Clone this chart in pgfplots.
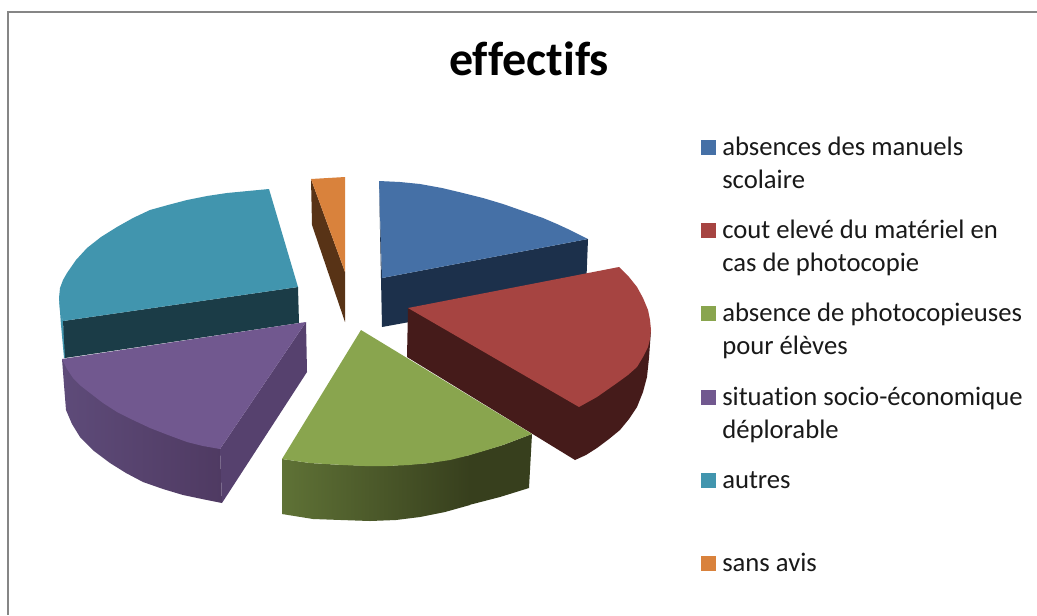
\documentclass[border=0pt]{standalone}
\usepackage{fontspec}
\setmainfont[Ligatures={NoCommon}]{Carlito}
\usepackage{pgfplots}
\pgfplotsset{compat=1.18}
\definecolor{cblue}{HTML}{4570A6}
\definecolor{cbluedk}{HTML}{1C304B}
\definecolor{cred}{HTML}{A64441}
\definecolor{creddk}{HTML}{451B1A}
\definecolor{cgreen}{HTML}{89A54E}
\definecolor{cgreenL}{HTML}{5F7236}
\definecolor{cgreenD}{HTML}{373F1D}
\definecolor{cpurple}{HTML}{71588F}
\definecolor{cpurpleL}{HTML}{5E4B79}
\definecolor{cpurpleD}{HTML}{4F3A62}
\definecolor{cpurpleS}{HTML}{56416E}
\definecolor{cteal}{HTML}{4195AE}
\definecolor{ctealdk}{HTML}{1B3C47}
\definecolor{corange}{HTML}{D9823C}
\definecolor{corangedk}{HTML}{583316}
\definecolor{cborder}{HTML}{868686}
\begin{document}
\begin{tikzpicture}
\begin{axis}[
  scale only axis, width=777.75pt, height=461.25pt,
  xmin=0, xmax=1037, ymin=0, ymax=615, y dir=reverse,
  axis lines=none, clip=true,
  every axis plot/.append style={draw=none}
]
% page
\addplot[fill=white] coordinates {(0,0) (1037,0) (1037,615) (0,615)} --cycle;
% frame
\addplot[draw=cborder, line width=1.5pt] coordinates {(1037,12) (8,12) (8,615)};
% orange
\addplot[fill=corangedk] coordinates {(311,179) (312,225) (345,322) (345,272)} --cycle;
\addplot[fill=corange] coordinates {(311,179) (345,177) (345,272)} --cycle;
% teal
\addplot[fill=cteal] coordinates {(59,298) (61,325) (64,358) (66,358) (63,321)} --cycle;
\addplot[fill=ctealdk] coordinates {(63,321) (298,287) (299,323) (65,358)} --cycle;
\addplot[fill=cteal] coordinates {(269,189) (298,287) (63,321) (60,310) (59,298) (60,288) (63,280) (67,273) (76,260) (87,248) (101,237) (117,227) (133,218) (150,210) (168,205) (187,200) (207,196) (227,193) (248,191)} --cycle;
% blue
\addplot[fill=cbluedk] coordinates {(379,181) (382,278) (588,239) (586,290) (382,327)} --cycle;
\addplot[fill=cblue] coordinates {(379,181) (400,182) (420,184) (442,188) (463,193) (483,198) (503,204) (523,211) (543,218) (557,224) (570,230) (588,239) (382,278)} --cycle;
% purple
\addplot[left color=cpurpleL, right color=cpurpleD] coordinates {(62,359) (64,385) (66,410) (72,424) (80,437) (94,451) (110,463) (126,473) (143,482) (163,489) (183,495) (202,499) (222,503) (220,449)} --cycle;
\addplot[fill=cpurpleS] coordinates {(306,322) (307,372) (222,503) (220,449)} --cycle;
\addplot[fill=cpurple] coordinates {(62,359) (306,322) (220,449) (203,446) (187,442) (168,435) (150,428) (133,420) (117,412) (103,403) (90,393) (81,386) (73,378) (67,369)} --cycle;
% red
\addplot[fill=creddk] coordinates {(408,308) (407,357) (575,460) (586,455) (597,448) (609,439) (620,430) (629,419) (637,407) (643,392) (647,377) (649,358) (651,330)} --cycle;
\addplot[fill=cred] coordinates {(408,308) (619,267) (629,277) (637,287) (643,298) (648,310) (650,320) (651,330) (650,339) (648,347) (643,357) (637,367) (628,375) (617,383) (607,390) (597,397) (579,407)} --cycle;
% green
\addplot[left color=cgreenL, right color=cgreenD] coordinates {(282,459) (282,514) (313,519) (341,520) (370,521) (396,520) (420,517) (445,512) (470,505) (470,455) (430,463) (387,466) (343,465) (310,463)} --cycle;
\addplot[fill=cgreenD] coordinates {(469,455) (469,505) (500,497) (529,488) (532,434) (503,445)} --cycle;
\addplot[fill=cgreen] coordinates {(361,330) (532,434) (503,445) (487,450) (470,455) (450,460) (430,463) (409,465) (387,466) (365,466) (343,465) (326,464) (310,463) (282,459)} --cycle;
% legend keys
\addplot[fill=cblue] coordinates {(701,140) (716,140) (716,155) (701,155)} --cycle;
\addplot[fill=cred] coordinates {(701,223) (716,223) (716,238) (701,238)} --cycle;
\addplot[fill=cgreen] coordinates {(701,306) (716,306) (716,321) (701,321)} --cycle;
\addplot[fill=cpurple] coordinates {(701,390) (716,390) (716,405) (701,405)} --cycle;
\addplot[fill=cteal] coordinates {(701,473) (716,473) (716,488) (701,488)} --cycle;
\addplot[fill=corange] coordinates {(701,556) (716,556) (716,571) (701,571)} --cycle;
% texts
\node[anchor=base, font=\fontsize{36}{43}\selectfont\bfseries, inner sep=0pt] at (axis cs:529,75) {effectifs};
\begin{scope}[every node/.style={anchor=base west, inner sep=0pt, text=black!90, font=\fontsize{20}{24}\selectfont}]
\node at (axis cs:722,155) {absences des manuels};
\node at (axis cs:722,188) {scolaire};
\node at (axis cs:722,238) {cout elevé du matériel en};
\node at (axis cs:722,271) {cas de photocopie};
\node at (axis cs:722,321) {absence de photocopieuses};
\node at (axis cs:722,354) {pour élèves};
\node at (axis cs:722,405) {situation socio-économique};
\node at (axis cs:722,438) {déplorable};
\node at (axis cs:722,488) {autres};
\node at (axis cs:722,571) {sans avis};
\end{scope}
\end{axis}
\end{tikzpicture}
\end{document}
